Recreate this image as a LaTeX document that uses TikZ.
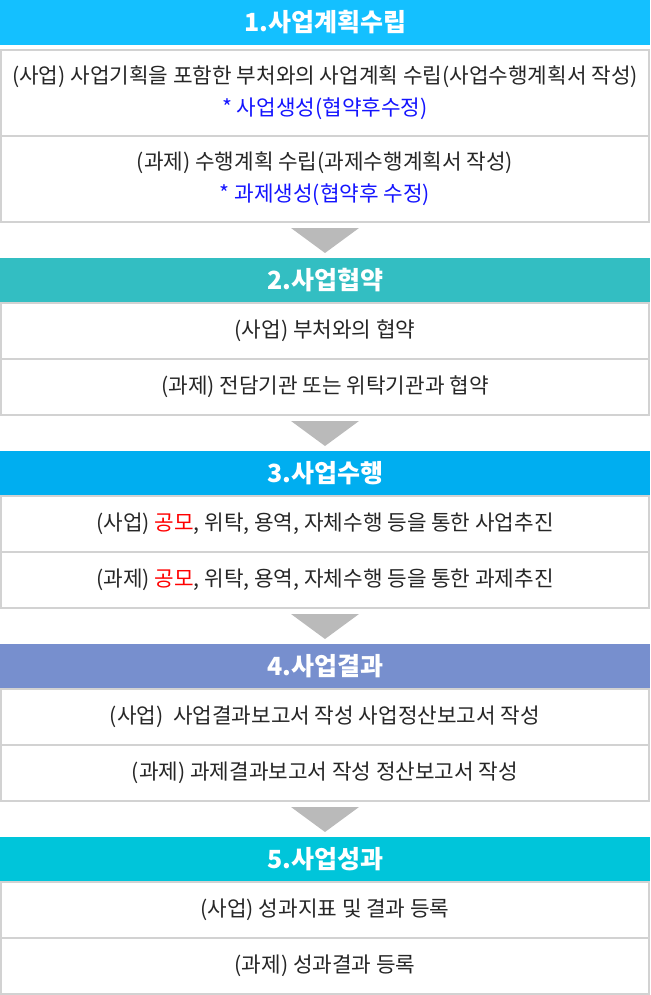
\documentclass[tikz,border=0pt]{standalone}
\usepackage{fontspec}
\setmainfont{Noto Sans CJK KR}
\usepackage{tikz}
\usetikzlibrary{positioning}

\definecolor{headone}{RGB}{20,192,255}
\definecolor{headtwo}{RGB}{51,190,194}
\definecolor{headthree}{RGB}{0,174,240}
\definecolor{headfour}{RGB}{119,143,206}
\definecolor{headfive}{RGB}{0,197,218}
\definecolor{boxline}{RGB}{210,210,210}
\definecolor{arrowgray}{RGB}{186,186,186}
\definecolor{notblue}{RGB}{20,20,255}

\newcommand{\redword}[1]{\textcolor{red}{#1}}

\begin{document}
\begin{tikzpicture}[
        x = 1pt, y = -1pt, % pixel grid
        outer sep = 0pt,
        head/.style = {
            rectangle,
            minimum width = 650pt,
            minimum height = 45pt,
            inner sep = 0pt,
            text = white,
            font = \fontsize{25}{25}\selectfont\bfseries
        },
        stepbox/.style = {
            rectangle,
            draw = boxline,
            line width = 1.2pt,
            minimum width = 648pt,
            minimum height = 56pt,
            inner sep = 0pt,
            align = center,
            text = black!85,
            font = \fontsize{21.3}{32}\selectfont
        },
        tallbox/.style = {stepbox, minimum height = 86pt},
        flowarrow/.style = {fill = arrowgray}
    ]

    \useasboundingbox (0,0) rectangle (650,995);

    % 1
    \node[head, fill = headone] (h1) at (325,22.5) {1.사업계획수립};
    \node[tallbox] (b1a) [below = 5pt of h1]
        {(사업) 사업기획을 포함한 부처와의 사업계획 수립(사업수행계획서 작성)\\
         \textcolor{notblue}{* 사업생성(협약후수정)}};
    \node[tallbox] (b1b) [below = 0pt of b1a]
        {(과제) 수행계획 수립(과제수행계획서 작성)\\
         \textcolor{notblue}{* 과제생성(협약후 수정)}};

    % 2
    \node[head, fill = headtwo] (h2) [below = 36pt of b1b] {2.사업협약};
    \node[stepbox] (b2a) [below = 0pt of h2] {(사업) 부처와의 협약};
    \node[stepbox] (b2b) [below = 0pt of b2a] {(과제) 전담기관 또는 위탁기관과 협약};

    % 3
    \node[head, fill = headthree] (h3) [below = 36pt of b2b] {3.사업수행};
    \node[stepbox] (b3a) [below = 0pt of h3]
        {(사업) \redword{공모}, 위탁, 용역, 자체수행 등을 통한 사업추진};
    \node[stepbox] (b3b) [below = 0pt of b3a]
        {(과제) \redword{공모}, 위탁, 용역, 자체수행 등을 통한 과제추진};

    % 4
    \node[head, fill = headfour] (h4) [below = 36pt of b3b] {4.사업결과};
    \node[stepbox] (b4a) [below = 0pt of h4]
        {(사업)\ \ 사업결과보고서 작성 사업정산보고서 작성};
    \node[stepbox] (b4b) [below = 0pt of b4a]
        {(과제) 과제결과보고서 작성 정산보고서 작성};

    % 5
    \node[head, fill = headfive] (h5) [below = 36pt of b4b] {5.사업성과};
    \node[stepbox] (b5a) [below = 0pt of h5] {(사업) 성과지표 및 결과 등록};
    \node[stepbox] (b5b) [below = 0pt of b5a] {(과제) 성과결과 등록};

    % down arrows between the steps
    \foreach \from/\to in {b1b/h2, b2b/h3, b3b/h4, b4b/h5}
        \fill[flowarrow] ([xshift = -34pt, yshift = -6pt]\from.south)
            -- ([xshift = 34pt, yshift = -6pt]\from.south)
            -- ([yshift = 5pt]\to.north) -- cycle;

\end{tikzpicture}
\end{document}
